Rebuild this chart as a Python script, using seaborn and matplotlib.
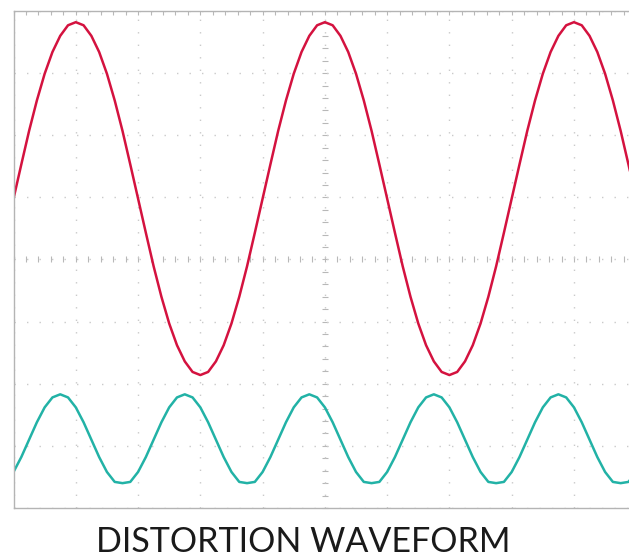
import numpy as np
import matplotlib
matplotlib.use('Agg')
import matplotlib.pyplot as plt
from matplotlib.ticker import MultipleLocator
import seaborn as sns

# scope screen: 10 x 8 divisions, 8 samples per horizontal division
samples_per_div = 8
n_div_x = 10
n_div_y = 8

# upper trace (red), volts in divisions
red_trace = [0.98, 1.53, 2.07, 2.56, 2.99, 3.34, 3.60, 3.77, 3.82, 3.77, 3.60, 3.34, 2.99, 2.56, 2.07, 1.53,
             0.98, 0.43, -0.11, -0.60, -1.03, -1.38, -1.64, -1.81, -1.86, -1.81, -1.64, -1.38, -1.03, -0.60, -0.11, 0.43,
             0.98, 1.53, 2.07, 2.56, 2.99, 3.34, 3.60, 3.77, 3.82, 3.77, 3.60, 3.34, 2.99, 2.56, 2.07, 1.53,
             0.98, 0.43, -0.11, -0.60, -1.03, -1.38, -1.64, -1.81, -1.86, -1.81, -1.64, -1.38, -1.03, -0.60, -0.11, 0.43,
             0.98, 1.53, 2.07, 2.56, 2.99, 3.34, 3.60, 3.77, 3.82, 3.77, 3.60, 3.34, 2.99, 2.56, 2.07, 1.53,
             0.98]

# lower trace (cyan), flattened at the bottom
cyan_trace = [-3.42, -3.18, -2.90, -2.62, -2.38, -2.22, -2.17, -2.22, -2.38, -2.62, -2.90, -3.18, -3.42, -3.58, -3.60, -3.58,
              -3.42, -3.18, -2.90, -2.62, -2.38, -2.22, -2.17, -2.22, -2.38, -2.62, -2.90, -3.18, -3.42, -3.58, -3.60, -3.58,
              -3.42, -3.18, -2.90, -2.62, -2.38, -2.22, -2.17, -2.22, -2.38, -2.62, -2.90, -3.18, -3.42, -3.58, -3.60, -3.58,
              -3.42, -3.18, -2.90, -2.62, -2.38, -2.22, -2.17, -2.22, -2.38, -2.62, -2.90, -3.18, -3.42, -3.58, -3.60, -3.58,
              -3.42, -3.18, -2.90, -2.62, -2.38, -2.22, -2.17, -2.22, -2.38, -2.62, -2.90, -3.18, -3.42, -3.58, -3.60, -3.58,
              -3.42]

title = 'DISTORTION WAVEFORM'

sns.set_style('white')
plt.rcParams['font.family'] = ['Lato', 'Liberation Sans', 'DejaVu Sans']

fig = plt.figure(figsize=(6.29, 5.58), dpi=100)
ax = fig.add_axes([0.0215, 0.0896, 0.990, 0.8907])

sample = np.arange(len(red_trace))
sns.lineplot(x=sample, y=red_trace, color='#d4123f', lw=1.8, ax=ax)
sns.lineplot(x=sample, y=cyan_trace, color='#22b2a6', lw=1.8, ax=ax)

ax.set_xlim(0, n_div_x * samples_per_div)
ax.set_ylim(-n_div_y / 2, n_div_y / 2)
ax.set_xlabel('')
ax.set_ylabel('')

# graticule
ax.xaxis.set_major_locator(MultipleLocator(samples_per_div))
ax.xaxis.set_minor_locator(MultipleLocator(samples_per_div / 5))
ax.yaxis.set_major_locator(MultipleLocator(1))
ax.yaxis.set_minor_locator(MultipleLocator(0.2))
ax.set_axisbelow(True)
ax.grid(True, which='major', color='#cacaca', linestyle=(0, (1, 8)), lw=1)
ax.tick_params(which='both', direction='in', top=True, right=True, length=3, width=0.8,
               color='#b8b8b8', labelbottom=False, labelleft=False)
for sp in ax.spines.values():
    sp.set_color('#b4b4b4')
    sp.set_linewidth(1)

# centre cross with small ticks
cx = ax.secondary_xaxis(0.5)
cx.xaxis.set_major_locator(MultipleLocator(samples_per_div / 5))
cx.tick_params(direction='inout', length=5, width=0.8, color='#b8b8b8', labelbottom=False, labeltop=False)
cy = ax.secondary_yaxis(0.5)
cy.yaxis.set_major_locator(MultipleLocator(0.2))
cy.tick_params(direction='inout', length=5, width=0.8, color='#b8b8b8', labelleft=False, labelright=False)
for sec in (cx, cy):
    for sp in sec.spines.values():
        sp.set_visible(False)

fig.text(0.482, 6 / 558, title, ha='center', va='baseline', fontsize=24.5,
         fontweight='normal', color='#1a1a1a')

fig.savefig('out.png', dpi=100)
